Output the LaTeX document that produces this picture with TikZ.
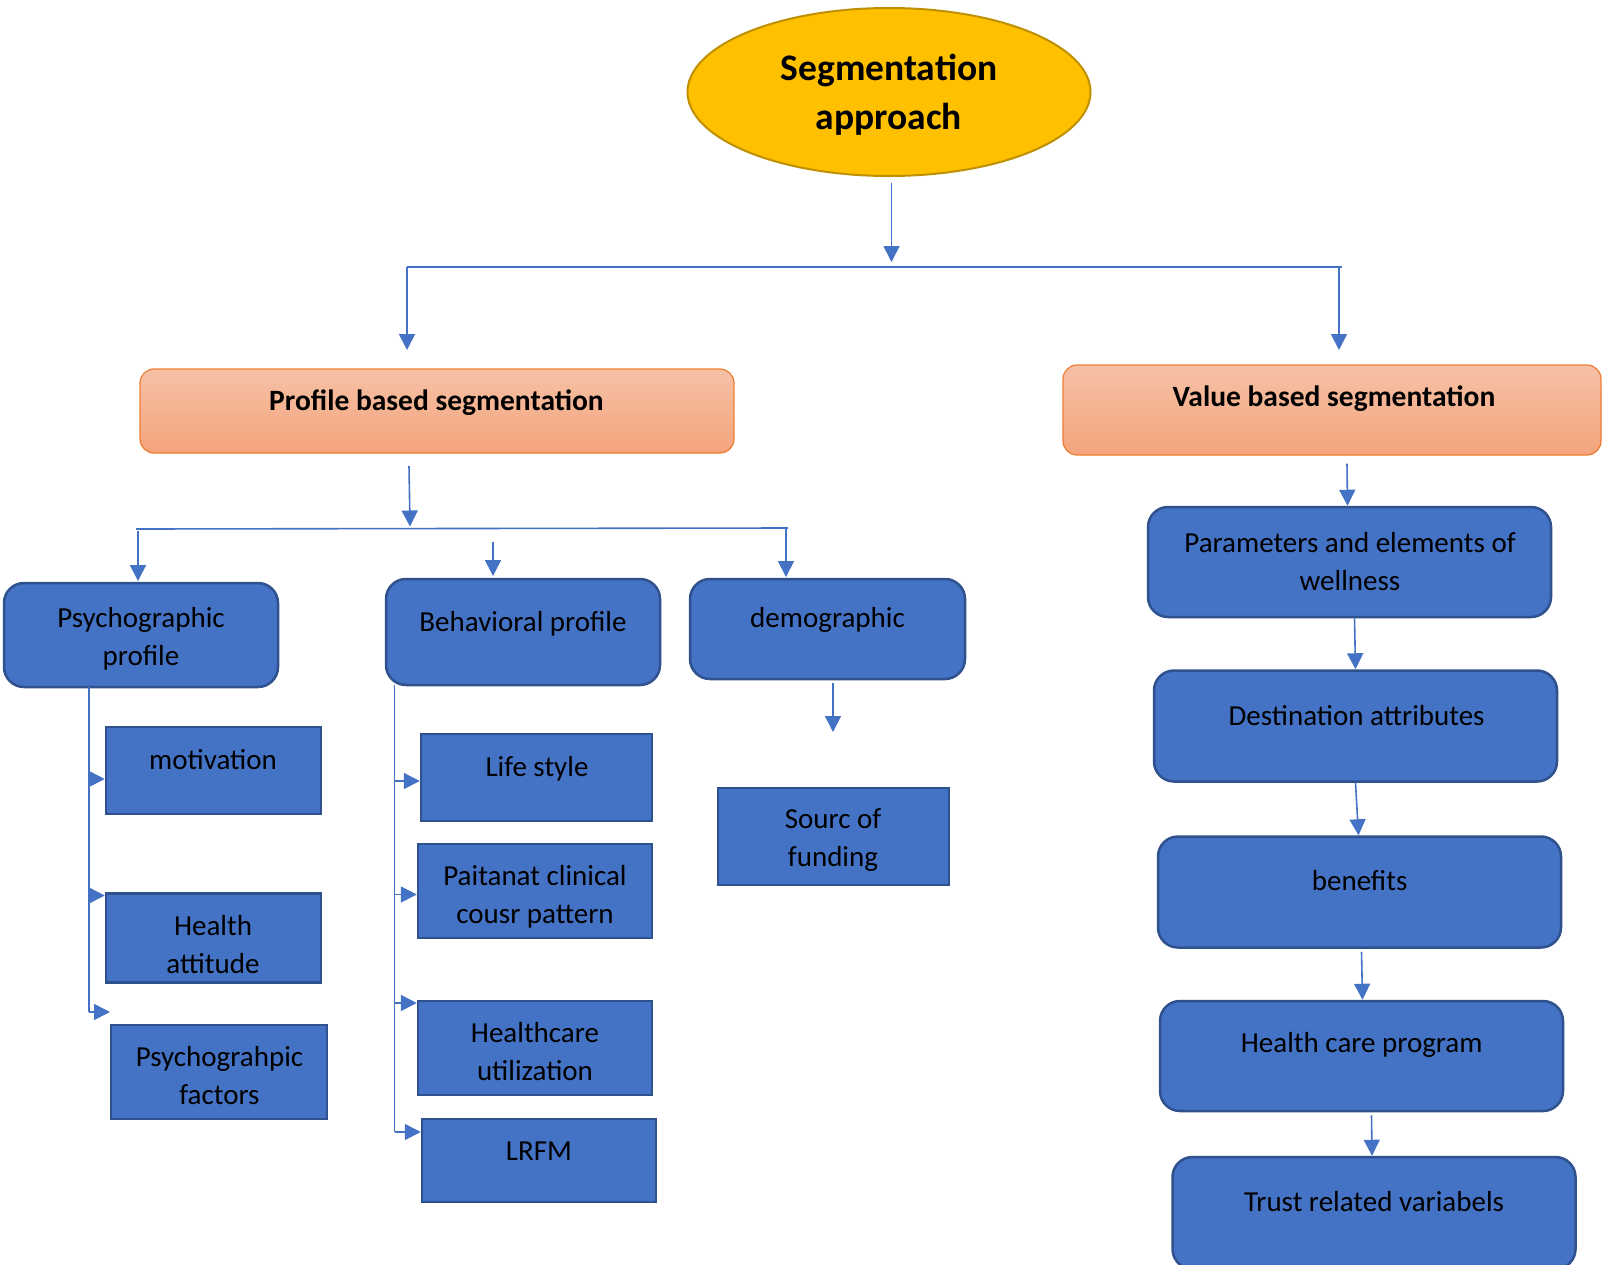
\documentclass[tikz,border=0pt]{standalone}
\usepackage{fontspec}
\setmainfont{Carlito}
\usetikzlibrary{arrows.meta,shapes.geometric}
\definecolor{boxblue}{HTML}{4472C4}
\definecolor{boxedge}{HTML}{2F528F}
\definecolor{connc}{HTML}{4472C4}
\definecolor{gold}{HTML}{FFC000}
\definecolor{goldedge}{HTML}{BF9000}
\definecolor{peachtop}{HTML}{F6C1A6}
\definecolor{peachbot}{HTML}{F4A47C}
\definecolor{peachedge}{HTML}{ED7D31}
\begin{document}
\begin{tikzpicture}[x=1pt,y=-1pt,
  conn/.style={draw=connc, line width=1.6pt},
  arr/.style={conn, -{Triangle[length=16pt,width=16pt]}},
  rbox/.style={draw=boxedge, fill=boxblue, line width=2.5pt, rounded corners=20pt, inner sep=0pt},
  sbox/.style={draw=boxedge, fill=boxblue, line width=2.5pt, inner sep=0pt},
  lbl/.style={font=\fontsize{29}{38}\selectfont, align=center, inner sep=0pt, yshift=-1.5pt},
  vlbl/.style={font=\fontsize{29}{38}\selectfont, align=center, inner sep=0pt, yshift=0.5pt},
  hlbl/.style={font=\fontsize{29.5}{35}\selectfont\bfseries, align=center, inner sep=0pt},
  hbox/.style={draw=peachedge, line width=1.2pt, top color=peachtop, bottom color=peachbot, rounded corners=14pt, inner sep=0pt},
]
\useasboundingbox (0,0) rectangle (1603,1264);
\fill[white] (0,0) rectangle (1603,1264);

% root
\node[ellipse, draw=goldedge, fill=gold, line width=2pt, minimum width=403pt, minimum height=168pt, inner sep=0pt] (root) at (889,92) {};
\node[font=\fontsize{37.5}{49}\selectfont\bfseries, align=center, inner sep=0pt] (root-t) at (889,95) {Segmentation\\approach};

% level 1
\node[hbox, minimum width=594pt, minimum height=84pt] (prof) at (437,411) {};
\node[hlbl] (prof-t) at (436.5,403) {Profile based segmentation};
\node[hbox, minimum width=538pt, minimum height=90pt] (val) at (1332,410) {};
\node[hlbl] (val-t) at (1334,399) {Value based segmentation};

% level 2 (profile)
\node[rbox, minimum width=274pt, minimum height=104pt] (psy) at (141,635) {};
\node[lbl] (psy-t) at (141,637.5) {Psychographic\\profile};
\node[rbox, minimum width=274pt, minimum height=106pt] (beh) at (523,632) {};
\node[lbl] (beh-t) at (523,622.6) {Behavioral profile};
\node[rbox, minimum width=275pt, minimum height=100pt] (dem) at (827.5,629) {};
\node[lbl] (dem-t) at (827.5,618.5) {demographic};

% psychographic children
\node[sbox, minimum width=215pt, minimum height=87pt] (mot) at (213.5,770.5) {};
\node[lbl] (mot-t) at (213,758.5) {motivation};
\node[sbox, minimum width=215pt, minimum height=89pt] (hat) at (213.5,938) {};
\node[lbl] (hat-t) at (213,943) {Health\\attitude};
\node[sbox, minimum width=216pt, minimum height=94pt] (pfa) at (219,1072) {};
\node[lbl] (pfa-t) at (219.5,1074.4) {Psychograhpic\\factors};

% behavioral children
\node[sbox, minimum width=231pt, minimum height=87pt] (life) at (536.5,777.5) {};
\node[lbl] (life-t) at (537,767.7) {Life style};
\node[sbox, minimum width=234pt, minimum height=94pt] (pcc) at (535,891) {};
\node[lbl] (pcc-t) at (535,895) {Paitanat clinical\\cousr pattern};
\node[sbox, minimum width=234pt, minimum height=94pt] (hcu) at (535,1048) {};
\node[lbl] (hcu-t) at (535,1050) {Healthcare\\utilization};
\node[sbox, minimum width=234pt, minimum height=83pt] (lrfm) at (539,1160.5) {};
\node[lbl] (lrfm-t) at (539,1150) {LRFM};

% demographic child
\node[sbox, minimum width=231pt, minimum height=97pt] (sof) at (833.5,836.5) {};
\node[lbl] (sof-t) at (833,838.8) {Sourc of\\funding};

% value chain
\node[rbox, minimum width=403pt, minimum height=110pt] (par) at (1349.5,562) {};
\node[vlbl] (par-t) at (1350,561.8) {Parameters and elements of\\wellness};
\node[rbox, minimum width=403pt, minimum height=111pt] (dst) at (1355.5,726) {};
\node[vlbl] (dst-t) at (1356.6,715.6) {Destination attributes};
\node[rbox, minimum width=403pt, minimum height=111pt] (ben) at (1359.5,892) {};
\node[vlbl] (ben-t) at (1359.6,881) {benefits};
\node[rbox, minimum width=403pt, minimum height=110pt] (hcp) at (1361.5,1056) {};
\node[vlbl] (hcp-t) at (1361.7,1045.8) {Health care program};
\node[rbox, minimum width=403pt, minimum height=112pt] (tru) at (1374,1213) {};
\node[vlbl] (tru-t) at (1374,1202) {Trust related variabels};

% ---- connectors ----
\coordinate (bus0) at (891.5,262);
\coordinate (busL) at (407,267);
\coordinate (busR) at (1342,267);
\coordinate (pIn) at (407,350);
\coordinate (vTop) at (1339,267);
\coordinate (vIn) at (1339,350);
\draw[arr] ([xshift=2.5pt,yshift=-6pt]root.south) -- (bus0);
\draw[conn] (busL) -- (busR);
\draw[arr] (busL) -- (pIn);
\draw[arr] (vTop) -- (vIn);

\coordinate (p0) at (409,466);
\coordinate (p1) at (410,526.5);
\coordinate (bus2L) at (136,529);
\coordinate (bus2R) at (788,528);
\coordinate (d1a) at (138,531);
\coordinate (d1b) at (138,581);
\coordinate (d2a) at (493,542);
\coordinate (d2b) at (493,576);
\coordinate (d3a) at (786,528);
\coordinate (d3b) at (786,577);
\draw[arr] (p0) -- (p1);
\draw[conn] (bus2L) -- (bus2R);
\draw[arr] (d1a) -- (d1b);
\draw[arr] (d2a) -- (d2b);
\draw[arr] (d3a) -- (d3b);

% psychographic tree
\coordinate (psyT) at (89,687);
\coordinate (psyB) at (89,1012);
\coordinate (jm) at (89,779);
\coordinate (jh) at (89,895.5);
\coordinate (jpf) at (110,1012);
\draw[conn] (psyT) -- (psyB);
\draw[arr] (jm) -- (mot.west |- jm);
\draw[arr] (jh) -- (hat.west |- jh);
\draw[arr] (psyB) -- (jpf);

% behavioral tree
\coordinate (behT) at (394.6,685);
\coordinate (behB) at (394.6,1132);
\coordinate (jl) at (394.6,781);
\coordinate (jp) at (394.6,894.5);
\coordinate (jc) at (394.6,1003);
\draw[conn] (behT) -- (behB);
\draw[arr] (jl) -- (life.west |- jl);
\draw[arr] (jp) -- (pcc.west |- jp);
\draw[arr] (jc) -- (hcu.west |- jc);
\draw[arr] (behB) -- (lrfm.west |- behB);

% demographic
\coordinate (dm0) at (833,683);
\coordinate (dm1) at (833,732);
\draw[arr] (dm0) -- (dm1);

% value chain
\draw[arr] ([xshift=15pt,yshift=-8pt]val.south) -- ([xshift=-2pt]par.north);
\draw[arr] ([xshift=5pt]par.south) -- (dst.north);
\draw[arr] (dst.south) -- ([xshift=-1pt]ben.north);
\draw[arr] ([xshift=2pt,yshift=-3pt]ben.south) -- ([xshift=1pt]hcp.north);
\draw[arr] ([xshift=10pt,yshift=-3pt]hcp.south) -- ([xshift=-2pt]tru.north);
\end{tikzpicture}
\end{document}
